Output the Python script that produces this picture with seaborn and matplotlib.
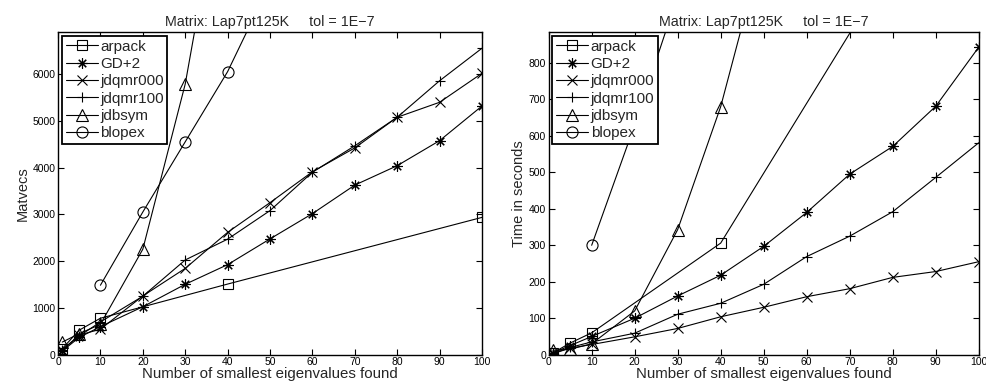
import numpy as np
import pandas as pd
import matplotlib
matplotlib.use("Agg")
import matplotlib.pyplot as plt
import seaborn as sns

# x positions (number of eigenvalues) per method
x_arpack = [1, 5, 10, 40, 100]
x_full = [1, 5, 10, 20, 30, 40, 50, 60, 70, 80, 90, 100]
x_jdbsym = [1, 5, 10, 20, 30, 40, 50]
x_blopex = [10, 20, 30, 40, 50]

# Matvecs
mv_arpack = [130, 525, 780, 1510, 2935]
mv_gd2 = [80, 370, 600, 1025, 1505, 1925, 2475, 3015, 3625, 4040, 4575, 5315]
mv_jdqmr000 = [100, 420, 545, 1255, 1845, 2615, 3250, 3910, 4420, 5075, 5395, 6015]
mv_jdqmr100 = [110, 400, 700, 1250, 2025, 2470, 3080, 3900, 4465, 5075, 5855, 6550]
mv_jdbsym = [270, 450, 650, 2255, 5785, 10850, 16000]
mv_blopex = [1485, 3050, 4550, 6050, 7930]

# Time in seconds
t_arpack = [5, 32, 60, 306, 1456]
t_gd2 = [5, 25, 50, 100, 161, 218, 297, 390, 495, 571, 681, 843]
t_jdqmr000 = [3, 18, 28, 49, 72, 104, 130, 159, 181, 212, 228, 255]
t_jdqmr100 = [3, 20, 35, 59, 111, 141, 193, 269, 325, 392, 486, 581]
t_jdbsym = [12, 15, 30, 120, 343, 680, 1125]
t_blopex = [300, 630, 985, 1400, 1820]

names = ["arpack", "GD+2", "jdqmr000", "jdqmr100", "jdbsym", "blopex"]
markers = ["s", (8, 2, 0), "x", "+", "^", "o"]
xs = [x_arpack, x_full, x_full, x_full, x_jdbsym, x_blopex]
matvecs = [mv_arpack, mv_gd2, mv_jdqmr000, mv_jdqmr100, mv_jdbsym, mv_blopex]
times = [t_arpack, t_gd2, t_jdqmr000, t_jdqmr100, t_jdbsym, t_blopex]

sns.set_style("ticks")
plt.rcParams["font.family"] = ["Liberation Sans", "DejaVu Sans"]

fig = plt.figure(figsize=(9.87, 3.88), dpi=100)
ax1 = fig.add_axes([0.0588, 0.0858, 0.4295, 0.832])
ax2 = fig.add_axes([0.5559, 0.0858, 0.4357, 0.832])

panels = [(ax1, matvecs, "Matvecs", 6900, [0, 1000, 2000, 3000, 4000, 5000, 6000]),
          (ax2, times, "Time in seconds", 885, [0, 100, 200, 300, 400, 500, 600, 700, 800])]

for ax, vals, ylab, ymax, yticks in panels:
    for name, mk, x, y in zip(names, markers, xs, vals):
        df = pd.DataFrame({"x": x, "y": y})
        ms = 8 if mk in ("o", "^") else 7.5
        sns.lineplot(data=df, x="x", y="y", ax=ax, color="k", lw=0.8,
                     marker=mk, markersize=ms, markerfacecolor="none",
                     markeredgecolor="k", markeredgewidth=0.8, label=name)
    ax.set_xlim(0, 100)
    ax.set_ylim(0, ymax)
    ax.set_xticks(range(0, 101, 10))
    ax.set_yticks(yticks)
    ax.tick_params(direction="in", top=True, right=True, length=4,
                   width=0.8, labelsize=7.5, pad=2, colors="k")
    for s in ax.spines.values():
        s.set_visible(True)
        s.set_linewidth(1.0)
        s.set_color("k")
    ax.set_xlabel("Number of smallest eigenvalues found", fontsize=10.8, labelpad=0)
    ax.set_ylabel(ylab, fontsize=10.5, labelpad=2)
    ax.set_title("Matrix: Lap7pt125K     tol = 1E\u22127", fontsize=10.3, pad=4)
    leg = ax.legend(loc="upper left", fontsize=11, frameon=True, fancybox=False,
                    handlelength=2.1, handletextpad=0.15, borderpad=0.25,
                    labelspacing=0.22, borderaxespad=0.25)
    leg.get_frame().set_edgecolor("k")
    leg.get_frame().set_linewidth(1.3)
    leg.get_frame().set_alpha(1)

fig.savefig("out.png", dpi=100)
